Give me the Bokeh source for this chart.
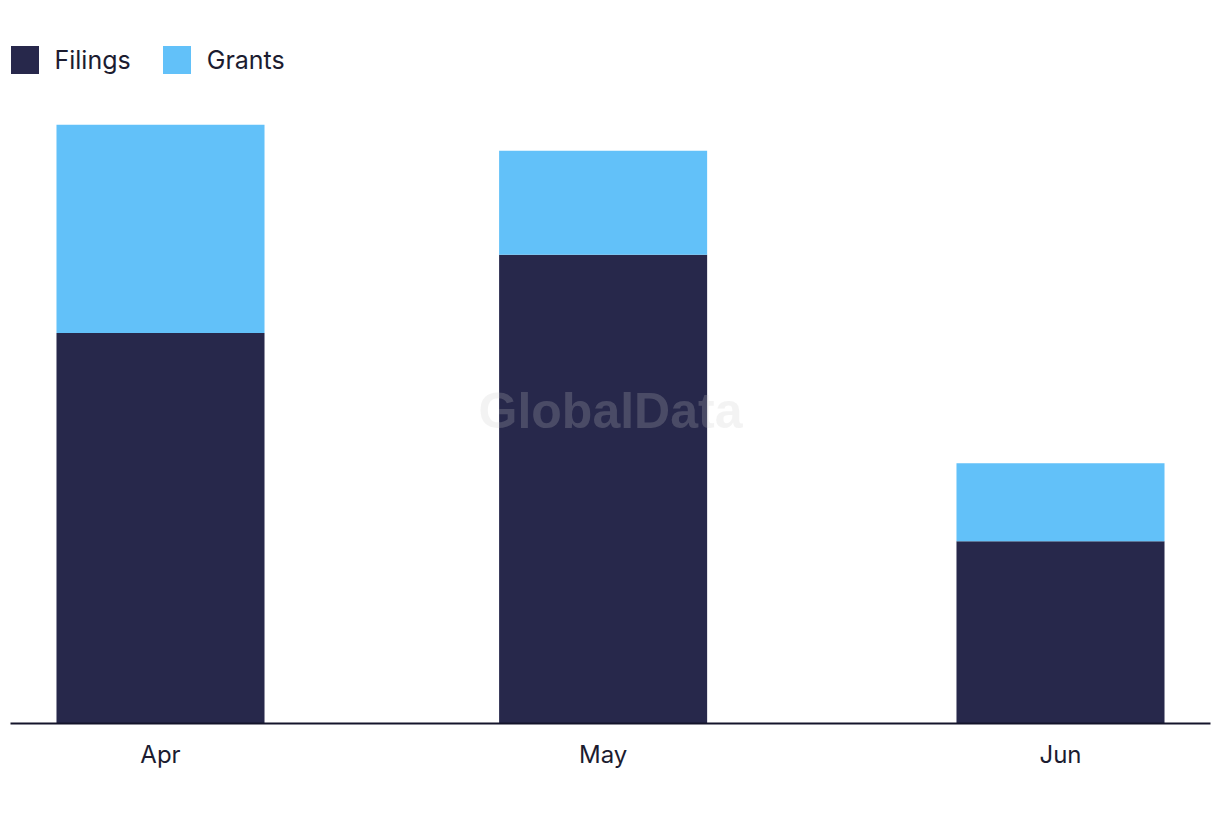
import pandas as pd
from bokeh.plotting import figure
from bokeh.models import ColumnDataSource, Range1d, Legend, LegendItem, Label, FixedTicker, DatetimeTickFormatter
from bokeh.embed import file_html
from bokeh.resources import INLINE

months = ["2023-04-01", "2023-05-01", "2023-06-01"]
filings = [15, 18, 7]
grants = [8, 4, 3]
series = ["Filings", "Grants"]
colors = ["#27284b", "#62c1f9"]

x = [pd.Timestamp(m).value / 1e6 for m in months]
DAY = 86400000.0

src = ColumnDataSource(dict(x=x, Filings=filings, Grants=grants))

p = figure(width=1220, height=822, x_axis_type="datetime", output_backend="svg",
           toolbar_location=None, min_border_left=10, min_border_right=10,
           min_border_top=0, min_border_bottom=99)
p.x_range = Range1d(x[0] - 10.167 * DAY, x[-1] + 10.167 * DAY)
p.y_range = Range1d(0, 27.77)

r = p.vbar_stack(series, x="x", width=14.1 * DAY, color=colors, source=src, line_width=0)

p.outline_line_color = None
p.grid.visible = False
p.yaxis.visible = False
ax = p.xaxis[0]
ax.ticker = FixedTicker(ticks=x)
ax.formatter = DatetimeTickFormatter(months="%b", days="%b")
ax.axis_line_color = "#14142b"
ax.axis_line_width = 2
ax.major_tick_line_color = None
ax.minor_tick_line_color = None
ax.major_label_text_font = "Inter"
ax.major_label_text_font_size = "24px"
ax.major_label_text_color = "#1c1c30"
ax.major_label_standoff = 10

legend = Legend(items=[LegendItem(label=s, renderers=[rr]) for s, rr in zip(series, r)],
                orientation="horizontal", location=(-3.5, 646), padding=0, margin=0,
                glyph_width=35, glyph_height=35, label_standoff=13, spacing=28,
                label_text_font="Inter", label_text_font_size="25px",
                label_text_color="#1c1c30", background_fill_alpha=0, border_line_color=None)
p.add_layout(legend)

wm = Label(x=(x[0] + x[-1]) / 2, y=12.0, text="GlobalData", text_align="center",
           text_baseline="middle", text_font="Liberation Sans", text_font_style="bold",
           text_font_size="50px", text_color="#c9c9c9", text_alpha=0.22)
p.add_layout(wm)

open("out.html", "w").write(file_html(p, INLINE))
